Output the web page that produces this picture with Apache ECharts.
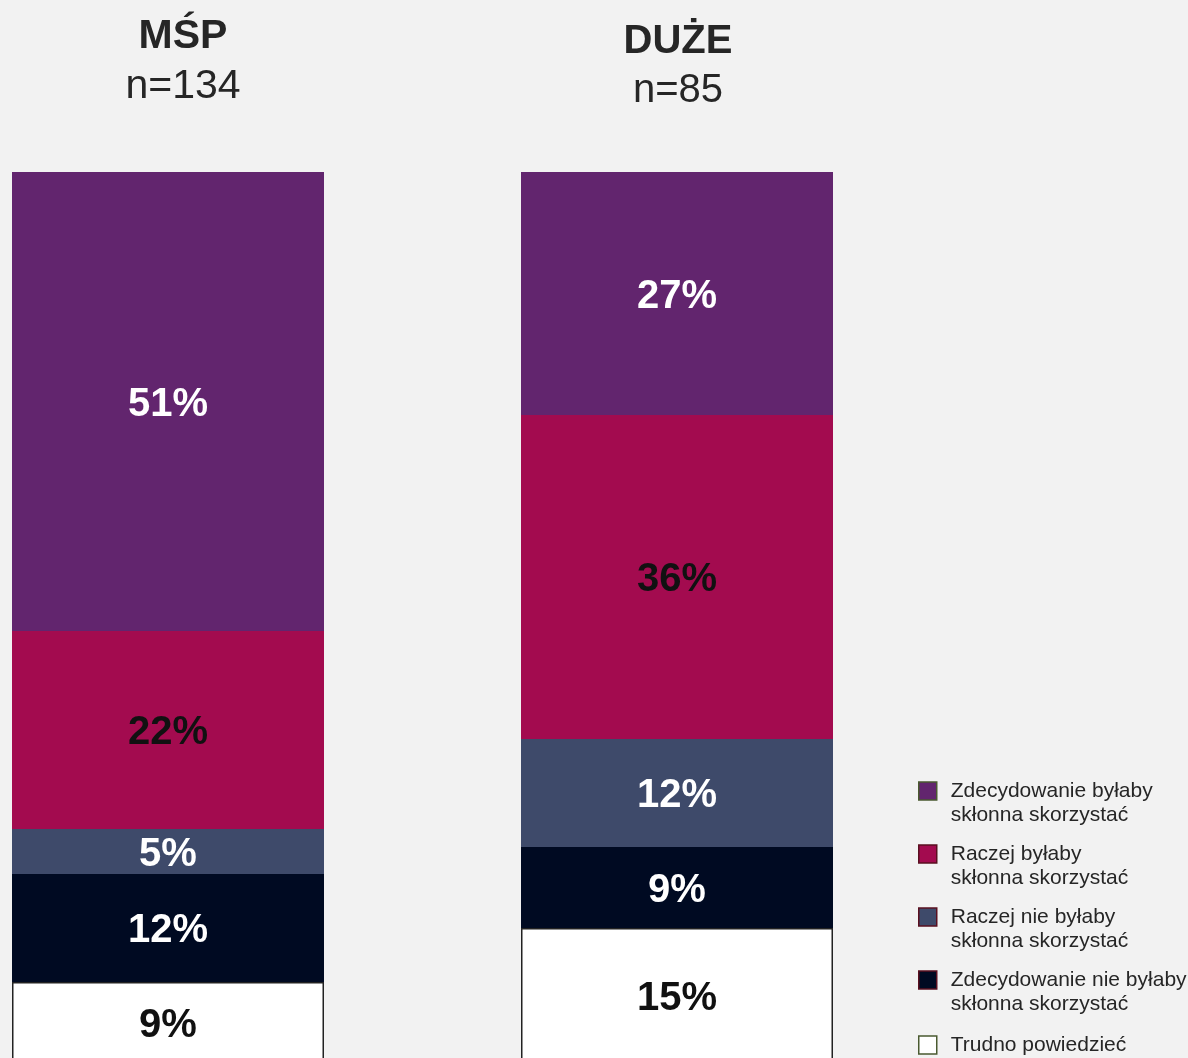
<!DOCTYPE html>
<html>
<head>
<meta charset="utf-8">
<script src="https://cdn.jsdelivr.net/npm/echarts@6/dist/echarts.min.js"></script>
<style>
html,body{margin:0;padding:0;background:#f2f2f2;}
#chart{width:1188px;height:1058px;}
</style>
</head>
<body>
<div id="chart"></div>
<script>
var categories = ['MŚP', 'DUŻE'];
var sampleSizes = ['n=134', 'n=85'];
var seriesNames = [
  'Zdecydowanie byłaby skłonna skorzystać',
  'Raczej byłaby skłonna skorzystać',
  'Raczej nie byłaby skłonna skorzystać',
  'Zdecydowanie nie byłaby skłonna skorzystać',
  'Trudno powiedzieć'
];
var legendLabels = [
  ['Zdecydowanie byłaby', 'skłonna skorzystać'],
  ['Raczej byłaby', 'skłonna skorzystać'],
  ['Raczej nie byłaby', 'skłonna skorzystać'],
  ['Zdecydowanie nie byłaby', 'skłonna skorzystać'],
  ['Trudno powiedzieć']
];
var zdecydowanieTak = [51, 27];
var raczejTak = [22, 36];
var raczejNie = [5, 12];
var zdecydowanieNie = [12, 9];
var trudno = [9, 15];

var colors = ['#62256e', '#a30b4f', '#3e4a6a', '#000a22', '#ffffff'];
var labelColors = ['#ffffff', '#111111', '#ffffff', '#ffffff', '#111111'];
var legendBorders = ['#4a5a30', '#5a1020', '#5a1020', '#5a1020', '#4a5a30'];
var values = [zdecydowanieTak, raczejTak, raczejNie, zdecydowanieNie, trudno];

var chart = echarts.init(document.getElementById('chart'));
var FONT = 'Liberation Sans, Arial, sans-serif';

var series = [];
for (var i = values.length - 1; i >= 0; i--) {
  series.push({
    name: seriesNames[i],
    type: 'bar',
    stack: 'total',
    barWidth: 312,
    clip: false,
    data: values[i],
    itemStyle: {
      color: colors[i],
      borderColor: i === 4 ? '#222222' : colors[i],
      borderWidth: i === 4 ? 1.5 : 0
    },
    label: {
      show: true,
      position: 'inside',
      offset: [0, 3],
      formatter: '{c}%',
      color: labelColors[i],
      fontFamily: FONT,
      fontWeight: 'bold',
      fontSize: 40
    },
    emphasis: {disabled: true}
  });
}

function legendItem(i) {
  return {
    name: seriesNames[i],
    itemStyle: {color: colors[i], borderColor: legendBorders[i], borderWidth: 1.5}
  };
}

var legendCommon = {
  orient: 'vertical',
  left: 918,
  padding: 0,
  icon: 'path://M0,0H10V10H0Z',
  itemWidth: 36,
  itemHeight: 18,
  itemGap: -9,
  selectedMode: false,
  formatter: function (name) {
    var l = legendLabels[seriesNames.indexOf(name)];
    return l.length > 1 ? ' \n' + l[0] + '\n' + l[1] : l[0];
  },
  textStyle: {
    fontFamily: FONT,
    fontSize: 21,
    lineHeight: 24,
    color: '#262626'
  }
};

chart.setOption({
  backgroundColor: '#f2f2f2',
  animation: false,
  title: [
    {text: categories[0], left: 183, top: 16, padding: 0, textAlign: 'center',
     textStyle: {fontFamily: FONT, fontWeight: 'bold', fontSize: 41, color: '#262626'}},
    {text: sampleSizes[0], left: 183, top: 66, padding: 0, textAlign: 'center',
     textStyle: {fontFamily: FONT, fontWeight: 'normal', fontSize: 41, color: '#262626'}},
    {text: categories[1], left: 678, top: 22, padding: 0, textAlign: 'center',
     textStyle: {fontFamily: FONT, fontWeight: 'bold', fontSize: 40, color: '#262626'}},
    {text: sampleSizes[1], left: 678, top: 71, padding: 0, textAlign: 'center',
     textStyle: {fontFamily: FONT, fontWeight: 'normal', fontSize: 40, color: '#262626'}}
  ],
  legend: [
    Object.assign({}, legendCommon, {top: 755, data: [0, 1, 2, 3].map(legendItem)}),
    Object.assign({}, legendCommon, {top: 1033, data: [4].map(legendItem)})
  ],
  grid: {left: 168, width: 509, top: 172, bottom: 0},
  xAxis: {
    type: 'category',
    data: categories,
    boundaryGap: false,
    show: false
  },
  yAxis: {
    type: 'value',
    min: 99 - 886 / 9,
    max: 99,
    show: false
  },
  series: series
});
</script>
</body>
</html>
